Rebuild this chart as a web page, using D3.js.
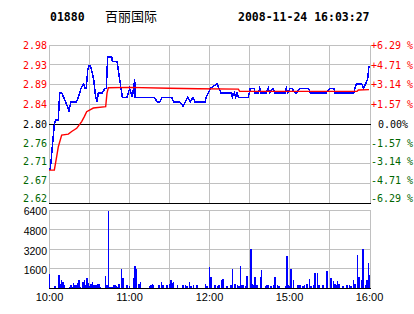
<!DOCTYPE html>
<html>
<head>
<meta charset="utf-8">
<script src="https://cdn.jsdelivr.net/npm/d3@7"></script>
<style>
body { margin: 0; background: #fff; }
svg { display: block; }
</style>
</head>
<body>
<script>
var W = 414,
    H = 314;

var PREV_CLOSE = 2.80,
    MAX_PCT = 0.0629;

var stockCode = "01880",
    stockName = "百丽国际",
    stamp = "2008-11-24 16:03:27";

var priceLabels = ["2.98", "2.93", "2.89", "2.84", "2.80", "2.76", "2.71", "2.67", "2.62"],
    pctLabels = ["+6.29 %", "+4.71 %", "+3.14 %", "+1.57 %", "0.00%", "-1.57 %", "-3.14 %", "-4.71 %", "-6.29 %"];

var volTicks = [1600, 3200, 4800, 6400];

var timeTicks = [0, 60, 120, 180, 240],
    timeLabels = ["10:00", "11:00", "12:00", "15:00", "16:00"],
    gridMinutes = [30, 60, 90, 120, 150, 180, 210];

// [trading minute since 10:00, price]
var pricePoints = [
    [0, 2.70], [1, 2.70], [4, 2.80], [5, 2.81], [7, 2.81], [8, 2.87], [9.5, 2.87],
    [12.5, 2.85], [15, 2.83], [16.5, 2.85], [20.5, 2.85], [22, 2.86], [24, 2.88],
    [26, 2.89], [27, 2.88], [28, 2.88], [29, 2.92], [30, 2.93], [31, 2.93], [32, 2.92],
    [33.5, 2.90], [35, 2.86], [36, 2.85], [37, 2.87], [40, 2.87], [42, 2.88], [43, 2.88],
    [44, 2.95], [47, 2.95], [47.5, 2.94], [51, 2.94], [52, 2.92], [53, 2.90], [55, 2.86],
    [58.5, 2.86], [60.5, 2.88], [62.5, 2.86], [64.3, 2.90], [64.5, 2.86], [79, 2.86],
    [81, 2.85], [83, 2.85], [85, 2.86], [92, 2.86], [93.5, 2.85], [98, 2.85], [100.5, 2.84],
    [104, 2.86], [106, 2.85], [108, 2.86], [109.5, 2.85], [117, 2.85], [118, 2.86],
    [121, 2.88], [126, 2.89], [129, 2.87], [137, 2.87], [137.5, 2.86], [139, 2.87],
    [140, 2.86], [141, 2.87], [142, 2.86], [149.5, 2.86], [151, 2.88], [154, 2.88],
    [154.5, 2.87], [157, 2.87], [158, 2.88], [159, 2.87], [163, 2.87], [164.5, 2.88],
    [165.5, 2.87], [168, 2.88], [169.5, 2.87], [177, 2.87], [178, 2.88], [179, 2.87],
    [181, 2.88], [182, 2.88], [184.5, 2.87], [186, 2.87], [188, 2.88], [194.5, 2.88],
    [196, 2.87], [208, 2.87], [210.5, 2.88], [213.5, 2.88], [214.5, 2.87], [228.5, 2.87],
    [230.5, 2.89], [234.5, 2.89], [236, 2.88], [237.5, 2.89], [239, 2.90], [240, 2.93]
];

var avgPoints = [
    [0, 2.698], [4, 2.698], [5.75, 2.728], [7, 2.75], [9.5, 2.776], [14.5, 2.778],
    [17, 2.784], [20.75, 2.791], [24.5, 2.806], [26.5, 2.817], [28.25, 2.828],
    [30.75, 2.832], [33.25, 2.836], [42.5, 2.839], [43.5, 2.869], [44.5, 2.881],
    [60, 2.882], [90, 2.880], [112, 2.879], [142, 2.878], [143, 2.873], [231, 2.873],
    [232, 2.876], [240, 2.877]
];

// [trading minute, volume]
var volPoints = [
    [0, 1180], [4, 190], [7, 1090], [8, 360], [9, 680], [10, 490], [11, 270], [15, 140],
    [16, 270], [17, 140], [18, 410], [19, 270], [20, 270], [21, 410], [22, 680], [23, 140],
    [25, 490], [26, 680], [27, 270], [28, 880], [29, 410], [30, 220], [31, 360], [32, 490],
    [33, 270], [34, 270], [35, 270], [36, 360], [37, 360], [38, 140], [42, 1010], [43, 270],
    [44, 6300], [45, 140], [46, 140], [47, 140], [48, 270], [49, 270], [50, 190], [51, 140],
    [52, 360], [54, 1610], [55, 880], [58, 270], [60, 190], [63, 880], [64, 1830], [65, 1560],
    [67, 360], [68, 490], [75, 190], [76, 270], [77, 360], [78, 270], [82, 270], [84, 550],
    [85, 270], [88, 270], [90, 360], [91, 680], [92, 410], [93, 490], [96, 270], [100, 270],
    [102, 270], [103, 190], [105, 490], [106, 190], [108, 270], [110, 270], [111, 270],
    [117, 330], [118, 190], [120, 1740], [121, 900], [124, 270], [126, 190], [127, 270],
    [129, 680], [130, 770], [133, 190], [136, 270], [137, 1590], [139, 360], [141, 270],
    [142, 190], [143, 1830], [144, 270], [145, 270], [147, 190], [148, 1010], [151, 3230],
    [152, 360], [153, 270], [154, 930], [155, 270], [156, 270], [158, 930], [159, 1530],
    [162, 190], [163, 270], [164, 270], [166, 190], [168, 270], [169, 930], [171, 270],
    [172, 190], [177, 190], [178, 2650], [179, 270], [180, 190], [181, 1610], [183, 680],
    [186, 270], [187, 270], [188, 270], [190, 190], [191, 270], [193, 360], [195, 770],
    [196, 190], [198, 270], [199, 1260], [201, 1260], [202, 270], [205, 270], [208, 1450],
    [211, 880], [213, 600], [214, 360], [215, 270], [216, 600], [217, 360], [220, 190],
    [223, 270], [225, 270], [226, 190], [228, 680], [229, 360], [231, 2740], [232, 930],
    [234, 680], [235, 3230], [237, 270], [238, 680], [239, 2100], [240, 1090]
];

var X0 = 49, X1 = 369, XR = 370.5,
    P_TOP = 45, P_BOT = 203.5,
    V_TOP = 210, V_BOT = 288.5;

var RED = "#ff0000", GREEN = "#006600", GRID = "#c0c0c0", BLUE = "#0000ff";

var svg = d3.select("body").append("svg")
    .attr("width", W)
    .attr("height", H);

var x = d3.scaleLinear().domain([0, 240]).range([X0, X1]);
var yP = d3.scaleLinear()
    .domain([PREV_CLOSE * (1 - MAX_PCT), PREV_CLOSE * (1 + MAX_PCT)])
    .range([P_BOT, P_TOP]);
var yV = d3.scaleLinear().domain([0, 6400]).range([V_BOT, V_TOP]);

// price level of each label row
var levels = priceLabels.map(function (d, i) {
    return PREV_CLOSE * (1 + MAX_PCT * (4 - i) / 4);
});

function hline(g, y, x1, x2, color, w) {
    g.append("line")
        .attr("x1", x1).attr("x2", x2)
        .attr("y1", y).attr("y2", y)
        .attr("stroke", color)
        .attr("stroke-width", w || 1);
}
function vline(g, xx, y1, y2, color, w) {
    g.append("line")
        .attr("x1", xx).attr("x2", xx)
        .attr("y1", y1).attr("y2", y2)
        .attr("stroke", color)
        .attr("stroke-width", w || 1);
}

var grid = svg.append("g").attr("shape-rendering", "crispEdges");

// price panel grid
levels.forEach(function (lv, i) {
    if (i === 0 || i === 4 || i === 8) return;
    hline(grid, yP(lv), X0, XR, GRID);
});
gridMinutes.forEach(function (m) {
    vline(grid, x(m), P_TOP, P_BOT, GRID);
    vline(grid, x(m), V_TOP, V_BOT, GRID);
});
hline(grid, P_TOP, X0, XR, GRID);
vline(grid, X0, P_TOP, P_BOT, GRID);
vline(grid, XR, P_TOP, P_BOT, GRID);

// volume panel grid
volTicks.forEach(function (v) {
    hline(grid, yV(v), X0, XR, GRID);
});
vline(grid, X0, V_TOP, V_BOT, GRID);
vline(grid, XR, V_TOP, V_BOT, GRID);

// volume bars
svg.append("g")
    .attr("shape-rendering", "crispEdges")
    .selectAll("rect")
    .data(volPoints)
    .enter().append("rect")
    .attr("x", function (d) { return x(d[0]); })
    .attr("y", function (d) { return yV(d[1]); })
    .attr("width", 1.2)
    .attr("height", function (d) { return V_BOT - yV(d[1]); })
    .attr("fill", BLUE);

// zero line and panel bottoms
var base = svg.append("g").attr("shape-rendering", "crispEdges");
hline(base, yP(PREV_CLOSE), X0, XR, "#000", 1.3);
hline(base, P_BOT, X0, XR, "#000", 1.6);
hline(base, V_BOT, X0, XR, "#000", 1.4);

var line = d3.line()
    .x(function (d) { return x(d[0]); })
    .y(function (d) { return yP(d[1]); });

svg.append("path")
    .datum(pricePoints)
    .attr("d", line)
    .attr("fill", "none")
    .attr("stroke", BLUE)
    .attr("stroke-width", 1.5)
    .attr("shape-rendering", "crispEdges");

svg.append("path")
    .datum(avgPoints)
    .attr("d", line)
    .attr("fill", "none")
    .attr("stroke", RED)
    .attr("stroke-width", 1.4);

function rowColor(i) {
    return i < 4 ? RED : (i === 4 ? "#000" : GREEN);
}

// left price labels
var axL = svg.append("g")
    .attr("transform", "translate(" + X0 + ",0)")
    .call(d3.axisLeft(yP).tickValues(levels).tickSize(0).tickPadding(2)
        .tickFormat(function (d, i) { return priceLabels[i]; }));
axL.select(".domain").remove();
axL.selectAll("text")
    .attr("font-family", "DejaVu Sans Mono, monospace")
    .attr("font-size", 10)
    .attr("fill", function (d, i) { return rowColor(i); })
    .attr("y", function (d, i) { return -Math.max(0, i - 4) * 1.2; });

// right percent labels
var axR = svg.append("g")
    .attr("transform", "translate(" + (XR + 0.5) + ",0)")
    .call(d3.axisRight(yP).tickValues(levels).tickSize(0).tickPadding(0)
        .tickFormat(function (d, i) { return pctLabels[i]; }));
axR.select(".domain").remove();
axR.selectAll("text")
    .attr("font-family", "DejaVu Sans Mono, monospace")
    .attr("font-size", 10)
    .attr("fill", function (d, i) { return rowColor(i); })
    .attr("x", function (d, i) { return i === 4 ? 7 : 0; })
    .attr("y", function (d, i) { return -Math.max(0, i - 4) * 1.2; });

// volume labels
var axV = svg.append("g")
    .attr("transform", "translate(" + X0 + ",0)")
    .call(d3.axisLeft(yV).tickValues(volTicks).tickSize(0).tickPadding(2)
        .tickFormat(d3.format("d")));
axV.select(".domain").remove();
axV.selectAll("text")
    .attr("font-family", "Liberation Sans, Arial, sans-serif")
    .attr("font-size", 10.5)
    .attr("fill", "#000")
    .attr("y", 1.5);

// time labels
var axT = svg.append("g")
    .attr("transform", "translate(0," + V_BOT + ")")
    .call(d3.axisBottom(x).tickValues(timeTicks).tickSize(0).tickPadding(5)
        .tickFormat(function (d, i) { return timeLabels[i]; }));
axT.select(".domain").remove();
axT.selectAll("text")
    .attr("font-family", "Liberation Sans, Arial, sans-serif")
    .attr("font-size", 11)
    .attr("fill", "#000");

// title
svg.append("text")
    .attr("x", 50).attr("y", 20.5)
    .attr("font-family", "DejaVu Sans Mono, monospace")
    .attr("font-weight", "bold")
    .attr("font-size", 11.5)
    .text(stockCode);
svg.append("text")
    .attr("x", 105).attr("y", 21)
    .attr("font-family", "Noto Sans CJK SC, sans-serif")
    .attr("font-size", 13)
    .text(stockName);
svg.append("text")
    .attr("x", 238).attr("y", 20.5)
    .attr("font-family", "DejaVu Sans Mono, monospace")
    .attr("font-weight", "bold")
    .attr("font-size", 11.5)
    .text(stamp);
</script>
</body>
</html>
